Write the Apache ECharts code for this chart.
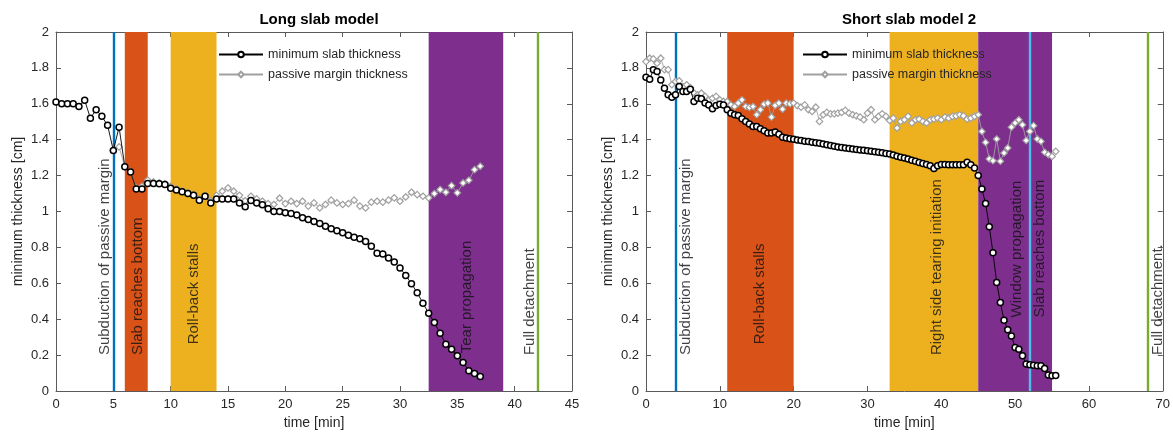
<!DOCTYPE html>
<html><head><meta charset="utf-8">
<script src="https://cdn.jsdelivr.net/npm/echarts@6/dist/echarts.min.js"></script>
<style>html,body{margin:0;padding:0;background:#fff}#c{width:1173px;height:435px}</style>
</head><body><div id="c"></div>
<script>
// ---------- DATA ----------
const longT = [0,0.5,1,1.5,2,2.5,3,3.5,4,4.5,5,5.5,6,6.5,7,7.5,8,8.5,9,9.5,10,10.5,11,11.5,12,12.5,13,13.5,14,14.5,15,15.5,16,16.5,17,17.5,18,18.5,19,19.5,20,20.5,21,21.5,22,22.5,23,23.5,24,24.5,25,25.5,26,26.5,27,27.5,28,28.5,29,29.5,30,30.5,31,31.5,32,32.5,33,33.5,34,34.5,35,35.5,36,36.5,37];
const longMin = [1.61,1.60,1.60,1.60,1.585,1.62,1.52,1.567,1.53,1.48,
  1.34,1.47,1.25,1.22,1.125,1.125,1.156,1.156,1.155,1.15,
  1.13,1.12,1.11,1.10,1.09,1.063,1.085,1.048,1.07,1.07,
  1.07,1.07,1.048,1.026,1.061,1.048,1.037,1.015,1.0,1.0,
  0.993,0.989,0.98,0.965,0.956,0.944,0.933,0.918,0.904,0.893,
  0.881,0.867,0.856,0.848,0.833,0.807,0.767,0.763,0.741,0.718,
  0.685,0.644,0.598,0.548,0.489,0.433,0.381,0.322,0.261,0.233,
  0.196,0.159,0.113,0.098,0.081];
const longPmT = [5,5.5,6,6.5,7,7.5,8,8.5,9,9.5,10,10.5,11,11.5,12,12.5,13,13.5,14,14.5,15,15.5,16,16.5,17,17.5,18,18.5,19,19.5,20,20.5,21,21.5,22,22.5,23,23.5,24,24.5,25,25.5,26,26.5,27,27.5,28,28.5,29,29.5,30,30.5,31,31.5,32,32.5,33,33.5,34,34.5,35,35.5,36,36.5,37];
const longPm = [1.34,1.36,1.25,1.22,1.13,1.14,1.175,1.165,1.16,1.155,
  1.14,1.125,1.115,1.105,1.095,1.07,1.09,1.06,1.09,1.113,
  1.131,1.113,1.09,1.06,1.085,1.07,1.057,1.044,1.039,1.074,
  1.044,1.057,1.044,1.057,1.03,1.048,1.02,1.039,1.063,1.048,
  1.039,1.044,1.063,1.03,1.02,1.052,1.057,1.052,1.063,1.076,
  1.057,1.081,1.107,1.094,1.085,1.076,1.1,1.122,1.107,1.144,
  1.104,1.159,1.174,1.233,1.252];

const shortT = [0,0.5,1,1.5,2,2.5,3,3.5,4,4.5,5,5.5,6,6.5,7,7.5,8,8.5,9,9.5,10,10.5,11,11.5,12,12.5,13,13.5,14,14.5,15,15.5,16,16.5,17,17.5,18,18.5,19,19.5,20,20.5,21,21.5,22,22.5,23,23.5,24,24.5,25,25.5,26,26.5,27,27.5,28,28.5,29,29.5,30,30.5,31,31.5,32,32.5,33,33.5,34,34.5,35,35.5,36,36.5,37,37.5,38,38.5,39,39.5,40,40.5,41,41.5,42,42.5,43,43.5,44,44.5,45,45.5,46,46.5,47,47.5,48,48.5,49,49.5,50,50.5,51,51.5,52,52.5,53,53.5,54,54.5,55,55.5];
const shortMin = [1.748,1.737,1.789,1.78,1.733,1.687,1.65,1.637,1.65,1.696,
  1.668,1.668,1.681,1.613,1.631,1.628,1.604,1.594,1.572,1.591,
  1.598,1.594,1.567,1.548,1.539,1.535,1.517,1.502,1.487,1.474,
  1.474,1.461,1.45,1.437,1.437,1.443,1.431,1.413,1.41,1.405,
  1.402,1.398,1.396,1.392,1.39,1.386,1.383,1.38,1.376,1.372,
  1.368,1.364,1.36,1.357,1.354,1.351,1.348,1.346,1.343,1.341,
  1.338,1.336,1.333,1.33,1.327,1.323,1.32,1.315,1.308,1.302,
  1.298,1.293,1.285,1.28,1.273,1.267,1.262,1.255,1.24,1.255,
  1.262,1.262,1.26,1.26,1.26,1.261,1.261,1.274,1.261,1.243,
  1.2,1.126,1.044,0.915,0.770,0.604,0.493,0.394,0.341,0.307,
  0.243,0.233,0.196,0.15,0.146,0.144,0.141,0.141,0.126,0.089,
  0.085,0.087];
const shortPm = [1.835,1.854,1.85,1.826,1.854,1.79,1.79,1.706,1.724,1.728,
  1.696,1.706,1.69,1.66,1.65,1.659,1.641,1.622,1.631,1.641,
  1.622,1.613,1.613,1.594,1.585,1.604,1.622,1.585,1.58,1.585,
  1.539,1.567,1.598,1.604,1.526,1.591,1.604,1.57,1.604,1.6,
  1.604,1.589,1.581,1.594,1.567,1.557,1.581,1.502,1.539,1.552,
  1.544,1.544,1.548,1.552,1.563,1.548,1.539,1.533,1.526,1.511,
  1.548,1.567,1.511,1.53,1.544,1.53,1.507,1.52,1.465,1.502,
  1.511,1.53,1.493,1.511,1.515,1.502,1.493,1.511,1.515,1.52,
  1.511,1.526,1.52,1.53,1.533,1.539,1.533,1.515,1.52,1.53,
  1.539,1.446,1.385,1.293,1.283,1.404,1.28,1.326,1.354,1.47,
  1.493,1.511,1.483,1.396,1.446,1.478,1.404,1.391,1.33,1.317,
  1.307,1.335];

// phases
const longBandStart = [6, 10, 32.5];
const longBandEnd = [8, 14, 39];
const longLines = [5, 42];
const shortBandStart = [11, 33, 45];
const shortBandEnd = [20, 45, 55];
const shortLines = [4, 52, 68];

// annotations (x = time, y = where text starts)
const longNotes = ['Subduction of passive margin','Slab reaches bottom','Roll-back stalls','Tear propagation','Full detachment'];
const longNoteX = [4.25, 7.15, 12.0, 35.8, 41.3];
const longNoteY = [0.2, 0.2, 0.26, 0.21, 0.2];
const shortNotes = ['Subduction of passive margin','Roll-back stalls','Right side tearing initiation','Window propagation','Slab reaches bottom','Full detachment.'];
const shortNoteX = [5.4, 15.4, 39.4, 50.2, 53.3, 69.3];
const shortNoteY = [0.2, 0.26, 0.2, 0.41, 0.41, 0.2];

const titles = ['Long slab model', 'Short slab model 2'];
const seriesNames = ['minimum slab thickness', 'passive margin thickness'];
const xName = 'time [min]';
const yName = 'minimum thickness [cm]';

// ---------- STYLE ----------
const FONT = '"Liberation Sans", Arial, Helvetica, sans-serif';
const longBandColors = ['#D95319', '#EDB120', '#7E2F8E'];
const longLineColors = ['#0072BD', '#77AC30'];
const shortBandColors = ['#D95319', '#EDB120', '#7E2F8E'];
const shortLineColors = ['#0072BD', '#4DBEEE', '#77AC30'];
const AX = '#5a5a5a';
const TXT = '#262626';

function zip(a, b) { return a.map((v, i) => [v, b[i]]); }

function xAx(grid, max, interval, pos) {
  const bottom = pos === 'bottom';
  return {
    gridIndex: grid, type: 'value', min: 0, max: max, interval: interval, position: pos,
    name: bottom ? xName : '', nameLocation: 'middle', nameGap: 25,
    nameTextStyle: { fontSize: 14, color: TXT, fontFamily: FONT },
    axisLine: { show: true, onZero: false, lineStyle: { color: AX, width: 1 } },
    axisTick: { show: true, inside: true, length: 5, lineStyle: { color: AX } },
    axisLabel: { show: bottom, fontSize: 13, color: TXT, margin: 7, fontFamily: FONT },
    splitLine: { show: false }
  };
}
function yAx(grid, pos) {
  const left = pos === 'left';
  return {
    gridIndex: grid, type: 'value', min: 0, max: 2, interval: 0.2, position: pos,
    name: left ? yName : '', nameLocation: 'middle', nameGap: 31,
    nameTextStyle: { fontSize: 14, color: TXT, fontFamily: FONT },
    axisLine: { show: true, onZero: false, lineStyle: { color: AX, width: 1 } },
    axisTick: { show: true, inside: true, length: 5, lineStyle: { color: AX } },
    axisLabel: { show: left, fontSize: 13, color: TXT, margin: 7, fontFamily: FONT },
    splitLine: { show: false }
  };
}

function phaseSeries(xi, yi, bs, be, bc, lines, lc) {
  return {
    type: 'line', xAxisIndex: xi, yAxisIndex: yi, data: [], silent: true, z: 1,
    markArea: {
      silent: true, z: 1,
      data: bs.map((s, i) => [{ xAxis: s, itemStyle: { color: bc[i], opacity: 1 } }, { xAxis: be[i] }])
    },
    markLine: {
      silent: true, z: 1, symbol: ['none', 'none'], animation: false,
      label: { show: false },
      data: lines.map((x, i) => ({ xAxis: x, lineStyle: { color: lc[i], width: 2.4, type: 'solid' } }))
    }
  };
}
function pmSeries(xi, yi, t, v) {
  return {
    name: seriesNames[1], type: 'line', xAxisIndex: xi, yAxisIndex: yi, data: zip(t, v), z: 3,
    symbol: 'diamond', symbolSize: 6.5, showAllSymbol: true,
    lineStyle: { color: '#a0a0a0', width: 0.9 },
    itemStyle: { color: '#ffffff', borderColor: '#a0a0a0', borderWidth: 1.2 }
  };
}
function minSeries(xi, yi, t, v) {
  return {
    name: seriesNames[0], type: 'line', xAxisIndex: xi, yAxisIndex: yi, data: zip(t, v), z: 4,
    symbol: 'circle', symbolSize: 6, showAllSymbol: true,
    lineStyle: { color: '#000000', width: 0.9 },
    itemStyle: { color: '#ffffff', borderColor: '#000000', borderWidth: 1.5 }
  };
}
function noteSeries(xi, yi, names, xs, ys) {
  return {
    type: 'scatter', xAxisIndex: xi, yAxisIndex: yi, silent: true, z: 2,
    symbolSize: 0, itemStyle: { color: 'rgba(0,0,0,0)' },
    data: names.map((n, i) => [xs[i], ys[i], n]),
    label: {
      show: true, position: 'inside', rotate: 90, align: 'left', verticalAlign: 'middle',
      formatter: p => p.data[2], fontSize: 15, color: '#111111', textBorderWidth: 0, fontFamily: FONT
    }
  };
}

const chart = echarts.init(document.getElementById('c'), null, { renderer: 'canvas' });
chart.setOption({
  animation: false,
  backgroundColor: '#ffffff',
  textStyle: { fontFamily: FONT },
  title: [
    { text: titles[0], left: 314, top: 7, textAlign: 'center', textStyle: { fontSize: 15, fontWeight: 'bold', color: '#000', fontFamily: FONT } },
    { text: titles[1], left: 904, top: 7, textAlign: 'center', textStyle: { fontSize: 15, fontWeight: 'bold', color: '#000', fontFamily: FONT } }
  ],
  legend: [
    { data: seriesNames, orient: 'vertical', left: 213, top: 43, itemGap: 7, itemWidth: 44, itemHeight: 7,
      textStyle: { fontSize: 12.5, color: TXT, fontFamily: FONT }, selectedMode: false },
    { data: seriesNames, orient: 'vertical', left: 797, top: 43, itemGap: 7, itemWidth: 44, itemHeight: 7,
      textStyle: { fontSize: 12.5, color: TXT, fontFamily: FONT }, selectedMode: false }
  ],
  grid: [
    { left: 56, right: 601, top: 32, bottom: 43 },
    { left: 646, right: 10, top: 32, bottom: 43 }
  ],
  xAxis: [xAx(0, 45, 5, 'bottom'), xAx(0, 45, 5, 'top'), xAx(1, 70, 10, 'bottom'), xAx(1, 70, 10, 'top')],
  yAxis: [yAx(0, 'left'), yAx(0, 'right'), yAx(1, 'left'), yAx(1, 'right')],
  series: [
    phaseSeries(0, 0, longBandStart, longBandEnd, longBandColors, longLines, longLineColors),
    noteSeries(0, 0, longNotes, longNoteX, longNoteY),
    pmSeries(0, 0, longPmT, longPm),
    minSeries(0, 0, longT, longMin),
    phaseSeries(2, 2, shortBandStart, shortBandEnd, shortBandColors, shortLines, shortLineColors),
    noteSeries(2, 2, shortNotes, shortNoteX, shortNoteY),
    pmSeries(2, 2, shortT, shortPm),
    minSeries(2, 2, shortT, shortMin)
  ]
});
</script></body></html>
